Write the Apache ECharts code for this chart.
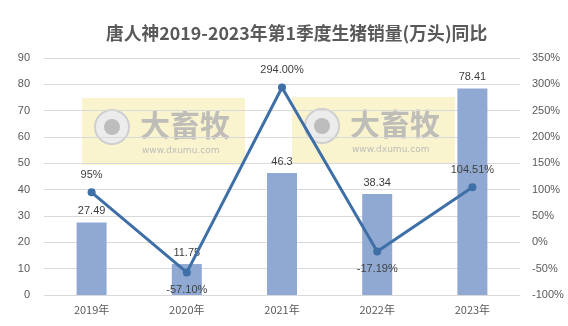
<!DOCTYPE html>
<html><head><meta charset="utf-8">
<script src="https://cdn.jsdelivr.net/npm/echarts@6/dist/echarts.min.js"></script>
<style>html,body{margin:0;padding:0;background:#fff}#c{width:568px;height:326px}</style>
</head><body><div id="c"></div>
<script>
const categories = ['2019年','2020年','2021年','2022年','2023年'];
const sales = [27.49, 11.75, 46.3, 38.34, 78.41];
const yoy = [95, -57.10, 294.00, -17.19, 104.51];
const yoyLabels = ['95%','-57.10%','294.00%','-17.19%','104.51%'];
const salesLabels = ['27.49','11.75','46.3','38.34','78.41'];
const yoyLabelPos = ['top','bottom','top','bottom','top'];

const chart = echarts.init(document.getElementById('c'));
function wm(x, y) {
  return {
    type: 'group', left: x, top: y, z: -1,
    children: [
      {type:'rect', shape:{x:0,y:0,width:163,height:67}, style:{fill:'rgba(247,239,190,0.75)'}},
      {type:'circle', shape:{cx:30,cy:29,r:17}, style:{fill:'#ececec', stroke:'#cfcfcf', lineWidth:2}},
      {type:'circle', shape:{cx:30,cy:29,r:8}, style:{fill:'#bdbdbd'}},
      {type:'text', style:{x:58, y:12, text:'大畜牧', fill:'rgba(180,180,180,0.85)', font:'bold 30px "Noto Sans CJK SC"'}},
      {type:'text', style:{x:60, y:48, text:'www.dxumu.com', fill:'rgba(180,180,180,0.85)', font:'9px "DejaVu Sans"'}}
    ]
  };
}
chart.setOption({
  animation: false,
  title: {
    text: '唐人神2019-2023年第1季度生猪销量(万头)同比',
    left: 101, top: 19,
    textStyle: {fontFamily:'"Noto Sans CJK SC"', fontSize: 17.8, fontWeight: 'bold', color: '#595959'}
  },
  graphic: [wm(82, 98), wm(292, 97)],
  grid: {left: 44, right: 48, top: 58, bottom: 31},
  xAxis: {
    type: 'category', data: categories,
    axisLine: {lineStyle: {color: '#d9d9d9'}},
    axisTick: {show: false},
    axisLabel: {color: '#595959', fontSize: 11, fontFamily: '"Noto Sans CJK SC"', margin: 9}
  },
  yAxis: [
    {type: 'value', min: 0, max: 90, interval: 10,
     axisLabel: {color: '#595959', fontSize: 11, fontFamily: 'Liberation Sans', margin: 14},
     splitLine: {lineStyle: {color: '#d9d9d9'}}, axisLine:{show:false}, axisTick:{show:false}},
    {type: 'value', min: -100, max: 350, interval: 50,
     axisLabel: {color: '#595959', fontSize: 11, fontFamily: 'Liberation Sans', formatter: '{value}%', margin: 12},
     splitLine: {show: false}, axisLine:{show:false}, axisTick:{show:false}}
  ],
  series: [
    {type: 'bar', data: sales, barWidth: 30, itemStyle: {color: '#8FA9D3'},
     label: {show: true, position: 'top', distance: 6, color: '#404040', fontSize: 11, fontFamily: 'Liberation Sans',
       formatter: p => salesLabels[p.dataIndex]}},
    {type: 'line', yAxisIndex: 1,
     data: yoy.map((v, i) => ({value: v, label: {position: yoyLabelPos[i]}})),
     symbol: 'circle', symbolSize: 8,
     lineStyle: {color: '#3E6FA6', width: 3}, itemStyle: {color: '#3E6FA6'},
     label: {show: true, distance: 8, color: '#404040', fontSize: 11, fontFamily: 'Liberation Sans',
       formatter: p => yoyLabels[p.dataIndex]}}
  ]
});
</script></body></html>
